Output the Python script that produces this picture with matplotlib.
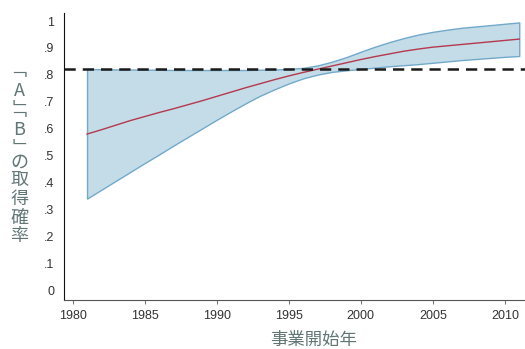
import numpy as np
import matplotlib
matplotlib.use("Agg")
import matplotlib.pyplot as plt
from matplotlib.textpath import TextPath
from matplotlib.font_manager import FontProperties
from matplotlib.transforms import IdentityTransform

# 事業開始年 and predicted probability with band
years = list(range(1981, 2012))
mean = [0.580, 0.596, 0.613, 0.630, 0.645, 0.660, 0.674, 0.689, 0.704, 0.720,
        0.736, 0.752, 0.767, 0.782, 0.796, 0.809, 0.821, 0.833, 0.845, 0.857,
        0.868, 0.878, 0.888, 0.896, 0.903, 0.908, 0.913, 0.918, 0.923, 0.928,
        0.933]
lower = [0.340, 0.373, 0.406, 0.439, 0.472, 0.504, 0.537, 0.569, 0.601, 0.633,
         0.664, 0.694, 0.722, 0.746, 0.768, 0.787, 0.801, 0.811, 0.817, 0.822,
         0.827, 0.832, 0.836, 0.840, 0.845, 0.850, 0.855, 0.859, 0.863, 0.867,
         0.870]
upper = [0.822, 0.821, 0.820, 0.820, 0.819, 0.819, 0.818, 0.818, 0.818, 0.818,
         0.818, 0.818, 0.819, 0.820, 0.822, 0.826, 0.835, 0.849, 0.866, 0.886,
         0.905, 0.922, 0.937, 0.950, 0.960, 0.968, 0.975, 0.980, 0.985, 0.990,
         0.995]
ref_level = 0.822

xticks = [1980, 1985, 1990, 1995, 2000, 2005, 2010]
yticks = [0, .1, .2, .3, .4, .5, .6, .7, .8, .9, 1]
ytick_labels = ['0', '.1', '.2', '.3', '.4', '.5', '.6', '.7', '.8', '.9', '1']

label_color = '#627676'
W, H, DPI = 525, 349, 100

fig = plt.figure(figsize=(W/DPI, H/DPI), dpi=DPI)
ax = fig.add_axes([64/W, 1-300/H, 1-64/W, (300-13)/H])

ax.fill_between(years, lower, upper, facecolor='#c3dce7', edgecolor='#72a9ca', linewidth=1)
ax.plot(years, mean, color='#b5384e', linewidth=1)
ax.axhline(ref_level, color='#1a1a1a', linewidth=1.8, dashes=(4.5, 2.8))

ax.set_xlim(1979.4, 2011.4)
ax.set_ylim(-0.037, 1.03)
ax.set_xticks(xticks)
ax.set_yticks(yticks)
ax.set_yticklabels(ytick_labels)

for s in ['top', 'right']:
    ax.spines[s].set_visible(False)
ax.spines['left'].set_color('#111111')
ax.spines['bottom'].set_color('#555555')

ax.tick_params(axis='y', length=0, pad=7, labelsize=9, labelcolor='#333333')
ax.tick_params(axis='x', length=3, color='#777777', pad=4, labelsize=9, labelcolor='#333333')
for lab in ax.get_xticklabels() + ax.get_yticklabels():
    lab.set_fontfamily('Liberation Sans')

ax.set_xlabel('事業開始年', fontsize=12.5, color=label_color,
              fontfamily='Noto Sans CJK JP', va='center')
ax.xaxis.set_label_coords((314-64)/(W-64), (300-340)/(300-13))

# vertical y-axis label, one glyph per row, centred on its ink
vchars = ['\ufe41', 'A', '\ufe42', '\ufe41', 'B', '\ufe42', 'の', '取', '得', '確', '率']
vpos = [75, 89, 103, 115, 128, 142, 161, 179, 197, 216, 234]
vsize = 13
fp = FontProperties(family='Noto Sans CJK JP', size=vsize)
for ch, yp in zip(vchars, vpos):
    bb = TextPath((0, 0), ch, size=vsize, prop=fp).get_extents()
    cx = (bb.x0 + bb.x1) / 2 * DPI / 72
    cy = (bb.y0 + bb.y1) / 2 * DPI / 72
    fig.text(19.5 - cx, (H - yp) - cy, ch, ha='left', va='baseline',
             fontsize=vsize, color=label_color, family=['Noto Sans CJK JP', 'DejaVu Sans'],
             transform=IdentityTransform())

fig.savefig('out.png', dpi=DPI)
